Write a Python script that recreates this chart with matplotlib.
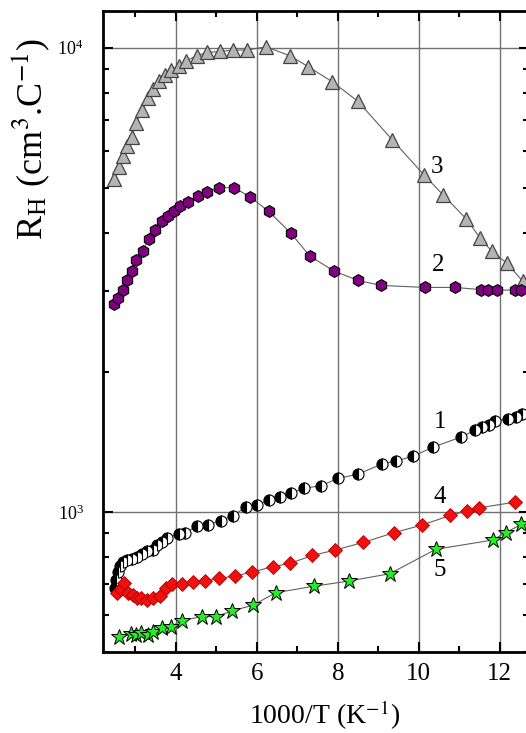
import matplotlib
matplotlib.use("Agg")
import matplotlib.pyplot as plt
from matplotlib.ticker import LogLocator, NullFormatter, MultipleLocator

plt.rcParams['font.family'] = ['Liberation Serif', 'DejaVu Serif']
plt.rcParams['mathtext.fontset'] = 'stix'

# curve 1 - half filled circles
x1 = [2.49, 2.53, 2.57, 2.62, 2.69, 2.79, 2.91, 3.04, 3.16, 3.28, 3.43, 3.53, 3.65, 3.78,
      4.07, 4.22, 4.52, 4.79, 5.11, 5.41, 5.72, 6.01, 6.30, 6.57, 6.84, 7.16, 7.58, 8.01,
      8.49, 9.10, 9.43, 9.86, 10.36, 11.05, 11.38, 11.57, 11.73, 11.89, 12.20, 12.40, 12.54]
y1 = [686, 714, 743, 766, 781, 789, 793, 802, 814, 823, 829, 849, 864, 880,
      899, 903, 933, 940, 959, 983, 1025, 1035, 1064, 1080, 1099, 1126, 1140, 1183,
      1207, 1271, 1288, 1320, 1382, 1452, 1501, 1523, 1542, 1569, 1590, 1605, 1625]

# curve 2 - purple hexagons
x2 = [2.47, 2.58, 2.69, 2.80, 2.91, 3.01, 3.19, 3.33, 3.49, 3.66, 3.81, 3.95, 4.09, 4.29,
      4.54, 4.77, 5.06, 5.44, 5.83, 6.29, 6.84, 7.31, 7.91, 8.50, 9.07, 10.15, 10.89,
      11.54, 11.70, 11.93, 12.37, 12.52]
y2 = [2801, 2890, 3013, 3166, 3304, 3494, 3659, 3878, 4061, 4246, 4353, 4462, 4557, 4658,
      4788, 4901, 4999, 4999, 4774, 4446, 3987, 3557, 3304, 3155, 3078, 3048, 3048,
      3014, 3002, 3008, 3008, 3002]

# curve 3 - gray triangles
x3 = [2.48, 2.60, 2.70, 2.79, 2.91, 3.01, 3.16, 3.30, 3.44, 3.59, 3.73, 3.87, 4.07, 4.26,
      4.51, 4.77, 5.09, 5.42, 5.75, 6.22, 6.82, 7.27, 7.86, 8.50, 9.34, 10.12, 10.59,
      11.17, 11.51, 11.80, 12.17, 12.57]
y3 = [5220, 5530, 5860, 6135, 6413, 6873, 7345, 7794, 8152, 8492, 8750, 8970, 9147, 9376,
      9612, 9770, 9818, 9887, 9887, 10050, 9612, 9103, 8450, 7664, 6340, 5332, 4829,
      4282, 3897, 3647, 3440, 3139]

# curve 4 - red diamonds
x4 = [2.55, 2.64, 2.72, 2.82, 2.95, 3.04, 3.15, 3.28, 3.44, 3.61, 3.75, 3.91, 4.15, 4.43,
      4.72, 5.06, 5.46, 5.88, 6.39, 6.82, 7.37, 7.94, 8.63, 9.38, 10.07, 10.78, 11.19,
      11.49, 12.37]
y4 = [669, 685, 703, 669, 663, 655, 652, 648, 655, 660, 688, 700, 702, 706,
      711, 720, 729, 743, 763, 776, 807, 829, 861, 903, 938, 984, 1006,
      1022, 1051]

# curve 5 - green stars
x5 = [2.60, 2.88, 3.01, 3.14, 3.30, 3.44, 3.66, 3.88, 4.14, 4.64, 4.99, 5.39, 5.91, 6.47,
      7.42, 8.28, 9.28, 10.42, 11.82, 12.14, 12.52]
y5 = [538, 547, 544, 549, 545, 553, 562, 567, 584, 596, 596, 613, 631, 671,
      693, 711, 737, 832, 871, 903, 941]

labels = ['1', '2', '3', '4', '5']
label_x = [10.52, 10.48, 10.44, 10.52, 10.52]
label_y = [1563, 3398, 5546, 1080, 750]

fig = plt.figure(figsize=(5.26, 7.33), dpi=100)
ax = fig.add_axes([103 / 526, 81 / 733, 426 / 526, 641 / 733])

line_kw = dict(color='#606060', lw=0.8, zorder=3)
ax.plot(x3, y3, marker='^', ms=9.5, mfc='#b4b4b4', mec='#444444', mew=0.9, **line_kw)
ax.plot(x2, y2, marker='h', ms=8.5, mfc='#800080', mec='black', mew=0.8, **line_kw)
ax.plot(x1, y1, marker='o', ms=8, fillstyle='left', mfc='black', mfcalt='white',
        mec='black', mew=0.8, **line_kw)
ax.plot(x4, y4, marker='D', ms=7.5, mfc='#f01010', mec='#b00000', mew=0.6, **line_kw)
ax.plot(x5, y5, marker='*', ms=12, mfc='#22ee22', mec='black', mew=0.7, **line_kw)

for t, tx, ty in zip(labels, label_x, label_y):
    ax.text(tx, ty, t, fontsize=18, ha='center', va='center', zorder=4)

ax.set_yscale('log')
ax.set_xlim(2.2, 12.72)
ax.set_ylim(500, 12000)

ax.xaxis.set_major_locator(MultipleLocator(2))
ax.xaxis.set_minor_locator(MultipleLocator(1))
ax.yaxis.set_major_locator(LogLocator(base=10))
ax.yaxis.set_minor_locator(LogLocator(base=10, subs=range(2, 10)))
ax.yaxis.set_minor_formatter(NullFormatter())

ax.grid(True, which='major', color='#727272', lw=1.0, zorder=1)
ax.tick_params(which='both', direction='in', top=True, right=True, width=1.5)
ax.tick_params(which='major', length=7)
ax.tick_params(which='minor', length=4)
ax.tick_params(axis='x', labelsize=18, pad=8)
ax.tick_params(axis='y', labelsize=13, pad=14)
for s in ax.spines.values():
    s.set_linewidth(2)

ax.set_xlabel(r'1000/T (K$^{-1}$)', fontsize=20)
ax.set_ylabel(r'R$_\mathregular{H}$ (cm$^3$.C$^{-1}$)', fontsize=26)
ax.xaxis.set_label_coords(0.519, -0.072)
ax.yaxis.set_label_coords(-0.12, 0.80)

fig.savefig('out.png', dpi=100)
